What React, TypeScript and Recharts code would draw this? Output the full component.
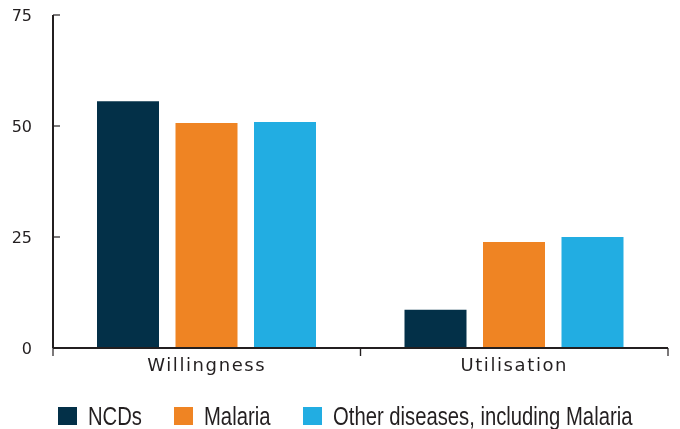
import React, { useLayoutEffect, useRef, useState } from 'react';
import { BarChart, Bar, XAxis, YAxis, Legend } from 'recharts';

const categories = ['Willingness', 'Utilisation'];
const ncds = [55.6, 8.6];
const malaria = [50.7, 23.9];
const otherDiseases = [50.9, 25.0];
const yTicks = [0, 25, 50, 75];
const seriesKeys = ['ncds', 'malaria', 'other'];
const seriesNames = ['NCDs', 'Malaria', 'Other diseases, including Malaria'];
const seriesColors = ['#033048', '#EF8423', '#22ADE2'];

const data = categories.map((c, i) => ({
  category: c,
  ncds: ncds[i],
  malaria: malaria[i],
  other: otherDiseases[i],
}));

const AXIS_COLOR = '#231f20';
const TICK_FONT = '"DejaVu Sans", Verdana, sans-serif';
const LEGEND_FONT = '"Liberation Sans", Arial, sans-serif';
const NARROW = 0.81;
const X_TICK_MARGIN = 9;
const X_TICK_LEN = 8;

const CategoryTick = (props: any) => {
  const { x, y, payload, width } = props;
  const half =
    payload && typeof payload.offset === 'number' && payload.offset > 0
      ? payload.offset
      : (width || 0) / categories.length / 2;
  const axisY = y - X_TICK_MARGIN;
  return (
    <g>
      <line x1={x - half} x2={x - half} y1={axisY} y2={axisY + X_TICK_LEN} stroke={AXIS_COLOR} strokeWidth={1.2} />
      <line x1={x + half} x2={x + half} y1={axisY} y2={axisY + X_TICK_LEN} stroke={AXIS_COLOR} strokeWidth={1.2} />
      <text
        x={x}
        y={y}
        dy="0.75em"
        textAnchor="middle"
        fill={AXIS_COLOR}
        style={{ fontFamily: TICK_FONT, fontSize: 18, letterSpacing: '1.6px' }}
      >
        {payload.value}
      </text>
    </g>
  );
};

const ValueTick = (props: any) => {
  const { x, y, payload } = props;
  return (
    <text
      x={x}
      y={y}
      dy="0.36em"
      textAnchor="end"
      fill={AXIS_COLOR}
      style={{ fontFamily: TICK_FONT, fontSize: 16 }}
    >
      {payload.value}
    </text>
  );
};

const NarrowText = ({ text }: { text: string }) => {
  const ref = useRef<HTMLSpanElement>(null);
  const [w, setW] = useState<number | null>(null);
  useLayoutEffect(() => {
    if (ref.current) setW(ref.current.offsetWidth);
  }, [text]);
  return (
    <span style={{ display: 'inline-block', width: w == null ? 'auto' : w * NARROW, overflow: 'visible', whiteSpace: 'nowrap' }}>
      <span
        ref={ref}
        style={{
          display: 'inline-block',
          whiteSpace: 'nowrap',
          transform: `scaleX(${NARROW})`,
          transformOrigin: '0 50%',
        }}
      >
        {text}
      </span>
    </span>
  );
};

const LegendContent = () => (
  <div
    style={{
      display: 'flex',
      alignItems: 'center',
      height: 26,
      fontFamily: LEGEND_FONT,
      fontSize: 25,
      color: AXIS_COLOR,
      whiteSpace: 'nowrap',
    }}
  >
    {seriesNames.map((name, i) => (
      <div key={name} style={{ display: 'flex', alignItems: 'center', marginRight: 32 }}>
        <span
          style={{
            width: 19,
            height: 18,
            background: seriesColors[i],
            display: 'inline-block',
            marginRight: 11,
          }}
        />
        <NarrowText text={name} />
      </div>
    ))}
  </div>
);

export default function App() {
  return (
    <div style={{ position: 'fixed', top: 0, left: 0, width: 680, height: 429, fontFamily: TICK_FONT }}>
      <BarChart
        width={680}
        height={429}
        data={data}
        margin={{ top: 15, right: 12, left: 0, bottom: 46 }}
        barSize={62}
        barGap={16.5}
      >
        <XAxis
          dataKey="category"
          height={35}
          axisLine={{ stroke: AXIS_COLOR, strokeWidth: 2 }}
          tickLine={false}
          tickSize={0}
          tickMargin={X_TICK_MARGIN}
          tick={<CategoryTick />}
          interval={0}
        />
        <YAxis
          width={53}
          domain={[0, 75]}
          ticks={yTicks}
          interval={0}
          tickSize={-7}
          tickMargin={28}
          axisLine={{ stroke: AXIS_COLOR, strokeWidth: 2 }}
          tickLine={{ stroke: AXIS_COLOR, strokeWidth: 1.2 }}
          tick={<ValueTick />}
        />
        <Legend
          layout="horizontal"
          verticalAlign="middle"
          align="center"
          content={() => <LegendContent />}
          wrapperStyle={{ position: 'absolute', left: 58, top: 403, width: 'auto', height: 'auto' }}
        />
        {seriesKeys.map((k, i) => (
          <Bar
            key={k}
            dataKey={k}
            name={seriesNames[i]}
            fill={seriesColors[i]}
            isAnimationActive={false}
          />
        ))}
      </BarChart>
    </div>
  );
}
